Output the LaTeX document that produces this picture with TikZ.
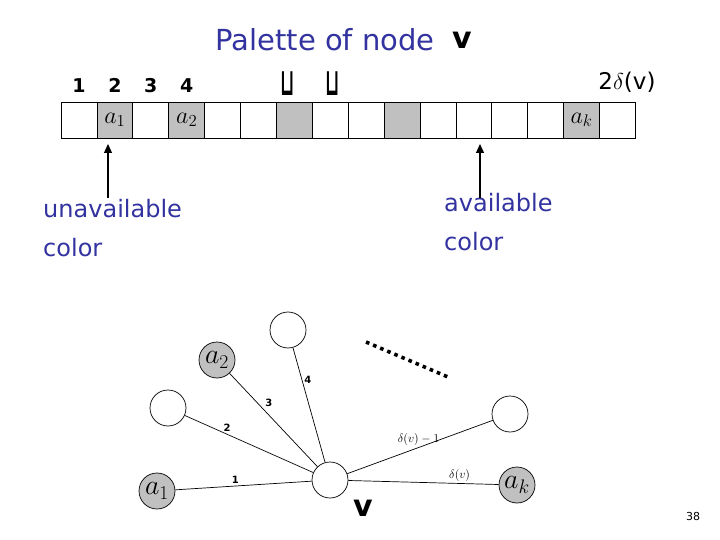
\RequirePackage{fix-cm}
\documentclass[tikz,border=0pt]{standalone}
\usepackage{fontspec}
\setsansfont{DejaVu Sans}
\usetikzlibrary{arrows.meta,positioning}
\definecolor{slideblue}{RGB}{50,50,160}
\definecolor{usedgray}{RGB}{192,192,192}

\begin{document}
\begin{tikzpicture}[
  x=1pt, y=-1pt,
  >=Triangle,
  cell/.style={rectangle, draw, line width=0.8pt, minimum width=35.9pt, minimum height=36pt, inner sep=0pt, outer sep=0pt, font=\fontsize{24}{24}\selectfont},
  used/.style={cell, fill=usedgray},
  num/.style={font=\sffamily\bfseries\fontsize{19}{19}\selectfont, inner sep=0pt},
  cup/.style={font=\sffamily\bfseries\fontsize{20}{20}\selectfont, inner sep=0pt},
  title/.style={text=slideblue, font=\sffamily\fontsize{29}{29}\selectfont, inner sep=0pt},
  note/.style={text=slideblue, font=\sffamily\fontsize{24}{39}\selectfont, align=left, inner sep=0pt},
  vname/.style={font=\sffamily\bfseries\fontsize{30}{30}\selectfont, inner sep=0pt},
  vert/.style={circle, draw, line width=0.7pt, fill=white, minimum size=36pt, inner sep=0pt, font=\fontsize{28}{28}\selectfont},
  colvert/.style={vert, fill=usedgray},
  edge/.style={line width=0.7pt},
  elabel/.style={font=\sffamily\bfseries\fontsize{10}{10}\selectfont, inner sep=2pt},
  dlabel/.style={font=\fontsize{12}{12}\selectfont, inner sep=2pt},
  arrow/.style={->, line width=1.3pt, shorten >=6pt, arrows={-Triangle[length=9pt, width=8pt]}}
]
\useasboundingbox (0,0) rectangle (720,540);

% palette
\node[title] (title) at (325,40) {Palette of node};
\node[vname, right=17pt of title] (tv) {v};
\node[cell] (c1) at (79,120) {};
\node[used, right=0pt of c1] (c2) {$a_1$};
\node[cell, right=0pt of c2] (c3) {};
\node[used, right=0pt of c3] (c4) {$a_2$};
\node[cell, right=0pt of c4] (c5) {};
\node[cell, right=0pt of c5] (c6) {};
\node[used, right=0pt of c6] (c7) {};
\node[cell, right=0pt of c7] (c8) {};
\node[cell, right=0pt of c8] (c9) {};
\node[used, right=0pt of c9] (c10) {};
\node[cell, right=0pt of c10] (c11) {};
\node[cell, right=0pt of c11] (c12) {};
\node[cell, right=0pt of c12] (c13) {};
\node[cell, right=0pt of c13] (c14) {};
\node[used, right=0pt of c14] (c15) {$a_k$};
\node[cell, right=0pt of c15] (c16) {};
\node[num, above=9pt of c1] (n1) {1};
\node[num, above=9pt of c2] (n2) {2};
\node[num, above=9pt of c3] (n3) {3};
\node[num, above=9pt of c4] (n4) {4};
\node[cup] (gap1) at (288,84) {\scalebox{0.9}[1.9]{⊔}};
\node[cup] (gap2) at (333,84) {\scalebox{0.9}[1.9]{⊔}};
\node[num, font=\fontsize{23}{23}\selectfont] (top) at (627,82) {\sffamily 2$\delta$(v)};

% notes
\node[note, anchor=north west] (unav) at (43,199) {unavailable\\color};
\node[note, anchor=north west] (av) at (444,193) {available\\color};
\coordinate (unavtail) at (108,198);
\coordinate (avtail) at (480,198);
\draw[arrow] (unavtail) -- (unavtail |- c2.south);
\draw[arrow] (avtail) -- (avtail |- c12.south);

% star of v
\node[vert] (v) at (330,480) {};
\node[colvert] (a1) at (157,491) {$a_1$};
\node[vert] (w2) at (168,408) {};
\node[colvert] (a2) at (217,360) {$a_2$};
\node[vert] (w4) at (288,330) {};
\node[vert] (wd) at (510,414) {};
\node[colvert] (ak) at (517,485) {$a_k$};
\node[vname] (vlabel) at (363,508) {v};
\draw[edge] (v) -- node[elabel, pos=0.56, above] {1} (a1);
\draw[edge] (v) -- node[elabel, pos=0.67, above] {2} (w2);
\draw[edge] (v) -- node[elabel, pos=0.62, above right] {3} (a2);
\draw[edge] (v) -- node[elabel, pos=0.72, right] {4} (w4);
\draw[edge] (v) -- node[dlabel, pos=0.49, above] {$\delta(v)-1$} (wd);
\draw[edge] (v) -- node[dlabel, pos=0.74, above] {$\delta(v)$} (ak);
\coordinate (dotsA) at (366,342);
\coordinate (dotsB) at (448,377);
\draw[line width=3.6pt, dash pattern=on 3.6pt off 4.1pt] (dotsA) -- (dotsB);

\node[font=\sffamily\fontsize{11}{11}\selectfont] (page) at (693,516) {38};
\end{tikzpicture}
\end{document}
